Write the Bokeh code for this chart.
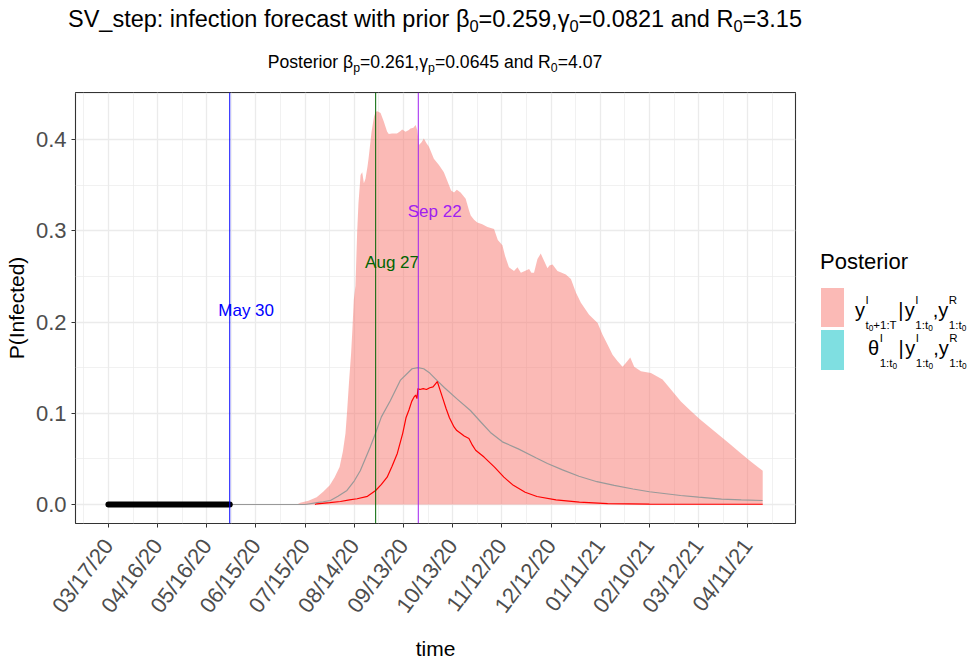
import numpy as np
import pandas as pd
from bokeh.plotting import figure
from bokeh.models import (Range1d, FixedTicker, DatetimeTickFormatter, Span, Label,
                          Div, PrintfTickFormatter)
from bokeh.layouts import column, row
from bokeh.embed import file_html
from bokeh.resources import INLINE

# ---- data: days counted from the first observation date ----
START = "2020-03-17"

# observed period (t0 = May 30)
obs_days = [0, 74]
obs_vals = [0.0, 0.0]

# posterior predictive band y^I_{t0+1:T}: upper edge (lower edge is 0)
band_days = [115, 117, 122, 127, 131, 135, 138, 141, 143, 144.6, 145.5, 146.7, 148, 148.7,
             149.7, 150.7, 151.7, 152.5, 153.8, 154.8, 155.8, 156.8, 158, 158.8, 160.5, 162,
             163, 164, 166, 168, 170, 171, 173, 176, 178, 179.2, 181.2, 183, 184.3, 186,
             187.4, 188.4, 189.4, 191, 192.4, 194, 195.5, 198.5, 201.6, 204.6, 207.7, 209,
             210.8, 212.5, 214.8, 217.9, 220, 221, 223, 225, 228, 231.2, 235.2, 237.5, 240.3,
             242, 244.3, 247.4, 249.5, 251.6, 254, 256.6, 258, 259.6, 261.7, 263.7, 265.7,
             267.8, 269, 270.9, 273.9, 276.5, 279, 282.1, 285.2, 288.2, 293.2, 298.4, 301.4,
             304.5, 307.5, 310.6, 313.6, 315.6, 318.3, 320.7, 324.8, 330.9, 338, 343.1, 349.2,
             354.3, 360.4, 366.5, 372.6, 378.7, 385.9, 392, 396.1, 399.1]
band_upper = [0.0, 0.002, 0.004, 0.008, 0.014, 0.021, 0.030, 0.041, 0.058, 0.078, 0.100,
              0.133, 0.165, 0.188, 0.225, 0.240, 0.298, 0.330, 0.361, 0.364, 0.352, 0.357,
              0.370, 0.381, 0.4085, 0.425, 0.4305, 0.431, 0.429, 0.4195, 0.4085, 0.406,
              0.4066, 0.4066, 0.409, 0.411, 0.4085, 0.410, 0.412, 0.413, 0.4158, 0.410, 0.394,
              0.397, 0.401, 0.396, 0.392, 0.379, 0.372, 0.364, 0.350, 0.344, 0.342, 0.345,
              0.342, 0.335, 0.322, 0.3166, 0.312, 0.309, 0.307, 0.304, 0.302, 0.290, 0.284,
              0.272, 0.260, 0.256, 0.260, 0.254, 0.256, 0.258, 0.254, 0.254, 0.269, 0.275,
              0.267, 0.259, 0.262, 0.263, 0.256, 0.254, 0.252, 0.247, 0.232, 0.221, 0.208,
              0.199, 0.186, 0.175, 0.164, 0.157, 0.151, 0.155, 0.161, 0.151, 0.146, 0.144,
              0.137, 0.126, 0.113, 0.104, 0.094, 0.085, 0.076, 0.067, 0.056, 0.047, 0.041,
              0.037]

# prior mean curve
prior_days = [0, 120, 127.3, 131, 135.4, 140, 145.5, 150, 153.6, 159.7, 162.8, 166.5, 172,
              178, 185.2, 188.8, 192.3, 196, 200.4, 205, 212.4, 220.8, 227, 233, 240.3, 250,
              261, 267.8, 277, 287, 298, 308.5, 320, 330, 349, 360, 374, 386, 399]
prior_mean = [0.0, 0.0, 0.002, 0.003, 0.0044, 0.009, 0.0154, 0.026, 0.037, 0.063, 0.0775,
              0.096, 0.114, 0.136, 0.1488, 0.150, 0.1488, 0.144, 0.136, 0.128, 0.116, 0.103,
              0.0907, 0.079, 0.0687, 0.061, 0.051, 0.045, 0.038, 0.031, 0.025, 0.021, 0.017,
              0.014, 0.0099, 0.008, 0.006, 0.005, 0.0044]

# posterior mean curve
post_days = [126, 127.3, 135, 141.5, 147, 151.7, 158, 163, 166.5, 170, 173, 176.2, 179.5,
             181.5, 183.3, 185, 186.5, 187.4, 188.2, 188.8, 190, 192, 194, 196, 198, 200.6,
             202, 204, 206, 208, 210.8, 212.5, 214.8, 217, 219.9, 222, 224, 229.1, 235.5,
             241.2, 247, 254.2, 261.4, 273, 287.3, 304.5, 330, 399.1]
post_mean = [0.0, 0.0008, 0.002, 0.0033, 0.005, 0.0063, 0.009, 0.0154, 0.022, 0.030, 0.042,
             0.056, 0.078, 0.095, 0.1036, 0.113, 0.118, 0.120, 0.116, 0.127, 0.126, 0.127,
             0.126, 0.128, 0.129, 0.1348, 0.127, 0.116, 0.105, 0.095, 0.085, 0.081, 0.078,
             0.075, 0.0724, 0.065, 0.0595, 0.052, 0.041, 0.030, 0.021, 0.0135, 0.0088, 0.005,
             0.0026, 0.001, 0.0005, 0.0003]

# marked dates
event_dates = ["2020-05-30", "2020-08-27", "2020-09-22"]
event_labels = ["May 30", "Aug 27", "Sep 22"]

x_tick_days = list(range(0, 391, 30))
y_ticks = [0.0, 0.1, 0.2, 0.3, 0.4]

# ---- helpers ----
DAY_MS = 86400000.0
start_ms = pd.Timestamp(START).timestamp() * 1000.0


def to_ms(days):
    return start_ms + np.asarray(days, dtype=float) * DAY_MS


FONT = "Liberation Sans"

# ---- main panel ----
p = figure(width=810, height=576, x_axis_type="datetime",
           x_range=Range1d(to_ms(-20.1), to_ms(419.1)),
           y_range=Range1d(-0.0208, 0.4515),
           output_backend="svg", toolbar_location=None,
           min_border_left=75, min_border_right=15, min_border_top=4,
           min_border_bottom=141,
           background_fill_color="white", border_fill_color="white")
p.outline_line_color = "#333333"
p.outline_line_width = 1.1

p.varea(x=to_ms(band_days), y1=np.zeros(len(band_days)), y2=band_upper,
        fill_color="#F8766D", fill_alpha=0.5)
p.line(to_ms(prior_days), prior_mean, line_color="#999999", line_width=1.2)
p.line(to_ms(post_days), post_mean, line_color="#FF0000", line_width=1.2)
p.line(to_ms(obs_days), obs_vals, line_color="black", line_width=6, line_cap="round")

event_colors = ["#0000FF", "#006400", "#A020F0"]
label_y = [0.213, 0.265, 0.321]
for d, lab, col, ly in zip(event_dates, event_labels, event_colors, label_y):
    ms = pd.Timestamp(d).timestamp() * 1000.0
    p.add_layout(Span(location=ms, dimension="height", line_color=col, line_width=1))
    p.add_layout(Label(x=ms + 10 * DAY_MS, y=ly, text=lab, text_align="center",
                       text_baseline="middle", text_font=FONT, text_font_size="17px",
                       text_color=col))

# x axis: ticks every 30 days, slanted date labels
xt = to_ms(x_tick_days)
xminor = to_ms(np.arange(-15, 420, 30))
p.xaxis.ticker = FixedTicker(ticks=list(xt), minor_ticks=list(xminor))
p.xaxis.formatter = DatetimeTickFormatter(days="%m/%d/%y", months="%m/%d/%y",
                                          years="%m/%d/%y")
p.xaxis.major_label_orientation = np.deg2rad(53)
p.xaxis.major_label_standoff = 14
p.xaxis.axis_label = "time"
p.xaxis.axis_label_standoff = 9

# y axis
p.yaxis.ticker = FixedTicker(ticks=y_ticks, minor_ticks=[0.05, 0.15, 0.25, 0.35, 0.45])
p.yaxis.formatter = PrintfTickFormatter(format="%.1f")
p.yaxis.axis_label = "P(Infected)"

for ax in (p.xaxis[0], p.yaxis[0]):
    ax.axis_line_color = None
    ax.major_tick_in = 0
    ax.major_tick_out = 4
    ax.major_tick_line_color = "#333333"
    ax.minor_tick_line_color = None
    ax.major_label_text_font = FONT
    ax.major_label_text_font_size = "22px"
    ax.major_label_text_color = "#4D4D4D"
    ax.axis_label_text_font = FONT
    ax.axis_label_text_font_size = "21px"
    ax.axis_label_text_font_style = "normal"
    ax.axis_label_text_color = "black"

for g in (p.xgrid[0], p.ygrid[0]):
    g.grid_line_color = "#EBEBEB"
    g.grid_line_width = 1.3
    g.minor_grid_line_color = "#EBEBEB"
    g.minor_grid_line_width = 0.7

# ---- titles ----
SUB = "font-size:0.7em;vertical-align:-0.3em;line-height:0"
title_html = f"""
<div style="position:relative;width:971px;height:88px;font-family:'{FONT}';color:black">
 <div style="position:absolute;left:0;top:8px;width:870px;text-align:center;
             font-size:23.5px;line-height:1;white-space:nowrap">
  SV_step: infection forecast with prior &beta;<sub style="{SUB}">0</sub>=0.259,&gamma;<sub style="{SUB}">0</sub>=0.0821 and R<sub style="{SUB}">0</sub>=3.15
 </div>
 <div style="position:absolute;left:0;top:54px;width:870px;text-align:center;
             font-size:17.6px;line-height:1;white-space:nowrap">
  Posterior &beta;<sub style="{SUB}">p</sub>=0.261,&gamma;<sub style="{SUB}">p</sub>=0.0645 and R<sub style="{SUB}">0</sub>=4.07
 </div>
</div>
"""
title_div = Div(text=title_html, width=971, height=88, margin=(0, 0, 0, 0))

# ---- legend ----
SS = ("display:inline-block;vertical-align:-12px;font-size:11.5px;line-height:25px;"
      "text-align:left;margin-left:0.5px")
SSUB = "font-size:0.72em;vertical-align:-0.3em;line-height:0"
BAR = '<span style="margin:0 1.5px">|</span>'


def stacked(sup, sub):
    return (f'<span style="{SS}"><span style="display:block">{sup}</span>'
            f'<span style="display:block">{sub}</span></span>')


t0 = f't<sub style="{SSUB}">0</sub>'
cond = f'{BAR}y{stacked("I", "1:" + t0)},y{stacked("R", "1:" + t0)}'
lab1 = f'y{stacked("I", t0 + "+1:T")}{cond}'
lab2 = f'&theta;{stacked("I", "1:" + t0)}{cond}'

legend_html = f"""
<div style="position:relative;width:161px;height:576px;font-family:'{FONT}';color:black">
 <div style="position:absolute;left:10px;top:163px;font-size:22px;line-height:1">Posterior</div>
 <div style="position:absolute;left:10.7px;top:199.7px;width:23.3px;height:39.6px;
             background:rgba(248,118,109,0.5)"></div>
 <div style="position:absolute;left:10.7px;top:242px;width:23.3px;height:40px;
             background:rgba(0,191,196,0.5)"></div>
 <div style="position:absolute;left:45px;top:200px;font-size:20px;line-height:22px;
             white-space:nowrap">{lab1}</div>
 <div style="position:absolute;left:58px;top:238px;font-size:20px;line-height:22px;
             white-space:nowrap">{lab2}</div>
</div>
"""
legend_div = Div(text=legend_html, width=161, height=576, margin=(0, 0, 0, 0))

layout = column(title_div, row(p, legend_div, spacing=0), spacing=0)

open("out.html", "w").write(file_html(layout, INLINE))
